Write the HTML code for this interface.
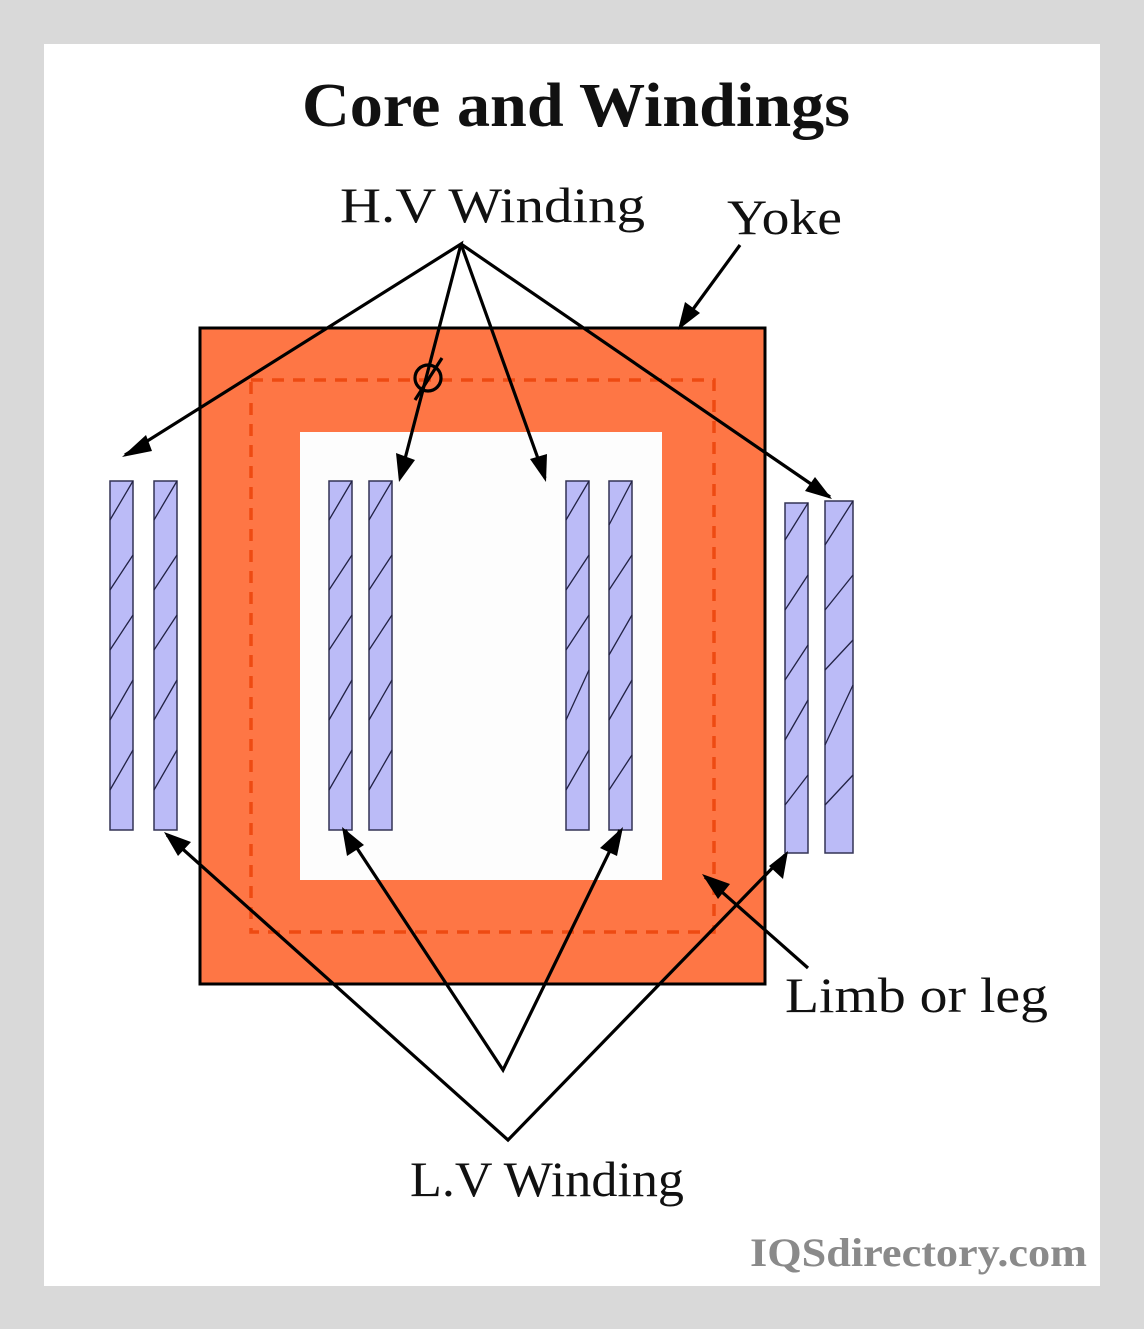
<!DOCTYPE html>
<html><head><meta charset="utf-8"><style>
html,body{margin:0;padding:0;background:#d9d9d9;}
svg{display:block}
</style></head><body>
<svg width="1144" height="1329" viewBox="0 0 1144 1329" xmlns="http://www.w3.org/2000/svg">
<rect x="0" y="0" width="1144" height="1329" fill="#d9d9d9"/>
<rect x="44" y="44" width="1056" height="1242" fill="#ffffff"/>
<text x="302" y="126" textLength="548" lengthAdjust="spacingAndGlyphs" font-family="Liberation Serif, serif" font-weight="bold" font-size="62" fill="#111">Core and Windings</text>
<rect x="200" y="328" width="565" height="656" fill="#fe7645" stroke="#000" stroke-width="3"/>
<rect x="300" y="432" width="362" height="448" fill="#fdfdfd"/>
<rect x="251" y="380" width="463" height="552" fill="none" stroke="#ee4a12" stroke-width="3.5" stroke-dasharray="12,9"/>
<g fill="#bbbbf7" stroke="#333355" stroke-width="1.5">
<rect x="110" y="481" width="23" height="349"/>
<rect x="154" y="481" width="23" height="349"/>
<rect x="329" y="481" width="23" height="349"/>
<rect x="369" y="481" width="23" height="349"/>
<rect x="566" y="481" width="23" height="349"/>
<rect x="609" y="481" width="23" height="349"/>
<rect x="785" y="503" width="23" height="350"/>
<rect x="825" y="501" width="28" height="352"/>
</g>
<g stroke="#222244" stroke-width="1.3">
<path d="M110 520 L133 481 M110 590 L133 555 M110 650 L133 615 M110 720 L133 680 M110 790 L133 750
M154 520 L177 481 M154 590 L177 555 M154 650 L177 615 M154 720 L177 680 M154 790 L177 750
M329 520 L352 481 M329 590 L352 555 M329 650 L352 615 M329 720 L352 680 M329 790 L352 750
M369 520 L392 481 M369 590 L392 555 M369 650 L392 615 M369 720 L392 680 M369 790 L392 750
M566 520 L589 481 M566 590 L589 555 M566 650 L589 615 M566 720 L589 670 M566 790 L589 750
M609 525 L632 481 M609 590 L632 555 M609 655 L632 615 M609 720 L632 680 M609 790 L632 755
M785 540 L808 503 M785 610 L808 575 M785 680 L808 645 M785 740 L808 700 M785 805 L808 775
M825 545 L853 501 M825 610 L853 575 M825 670 L853 640 M825 745 L853 685 M825 805 L853 775"/>
</g>
<g stroke="#000" stroke-width="3.2" fill="none">
<path d="M125 455 L461 244 L400 478"/>
<path d="M461 244 L545 478"/>
<path d="M461 244 L830 497"/>
<path d="M740 245 L680 327"/>
<path d="M167 835 L508 1140 L785 855"/>
<path d="M345 830 L503 1070 L620 830"/>
<path d="M808 968 L705 877"/>
<circle cx="428" cy="378" r="13"/>
<path d="M415 400 L442 358"/>
</g>
<g fill="#000">
<polygon points="122,457 146,435 152,451"/>
<polygon points="399,482 396,453 415,460"/>
<polygon points="546,482 530,459 547,454"/>
<polygon points="832,499 805,491 815,477"/>
<polygon points="678,330 685,302 700,313"/>
<polygon points="164,832 191,842 178,856"/>
<polygon points="342,827 347,856 364,845"/>
<polygon points="623,827 617,856 600,848"/>
<polygon points="788,851 783,879 769,866"/>
<polygon points="702,874 730,884 718,899"/>
</g>
<g font-family="Liberation Serif, serif" font-size="50" fill="#111" lengthAdjust="spacingAndGlyphs">
<text x="340" y="222" textLength="305" lengthAdjust="spacingAndGlyphs">H.V Winding</text>
<text x="727" y="234" textLength="115" lengthAdjust="spacingAndGlyphs">Yoke</text>
<text x="785" y="1012" textLength="263" lengthAdjust="spacingAndGlyphs">Limb or leg</text>
<text x="410" y="1196" textLength="274" lengthAdjust="spacingAndGlyphs">L.V Winding</text>
</g>
<text x="750" y="1266" textLength="337" lengthAdjust="spacingAndGlyphs" font-family="Liberation Serif, serif" font-weight="bold" font-size="40" fill="#8a8a8a">IQSdirectory.com</text>
</svg>
</body></html>
